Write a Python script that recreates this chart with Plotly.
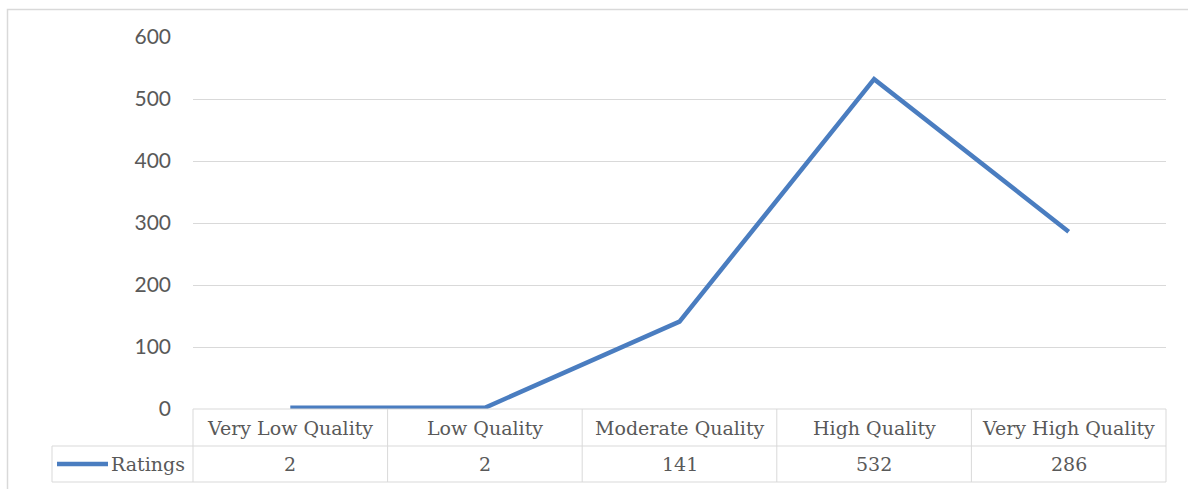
import plotly.graph_objects as go

categories = ["Very Low Quality", "Low Quality", "Moderate Quality", "High Quality", "Very High Quality"]
ratings = [2, 2, 141, 532, 286]
series_name = "Ratings"
y_ticks = [0, 100, 200, 300, 400, 500, 600]

W, H = 1188, 489
L, R, T, B = 193, 1166, 37, 409  # plot area pixels
PW, PH = R - L, B - T

def px(x):
    return (x - L) / PW

def py(y):
    return (B - y) / PH

GRID = "#d9d9d9"
TXT = "#595959"
BLUE = "#4a7dc0"
SERIF = "DejaVu Serif, serif"
SANS = "Lato, Open Sans, sans-serif"
TFS = 19

fig = go.Figure()
fig.add_trace(go.Scatter(
    x=list(range(len(categories))), y=ratings, mode="lines",
    line=dict(color=BLUE, width=4.5), name=series_name, showlegend=False,
    hoverinfo="y",
))

shapes = []
def line(x0, y0, x1, y1, color=GRID, w=1):
    shapes.append(dict(type="line", xref="paper", yref="paper",
                       x0=px(x0), y0=py(y0), x1=px(x1), y1=py(y1),
                       line=dict(color=color, width=w), layer="above"))

# outer chart border
shapes.append(dict(type="rect", xref="paper", yref="paper",
                   x0=px(7.5), y0=py(9.5), x1=px(1190), y1=py(495),
                   line=dict(color=GRID, width=1.5)))

# data table grid
n = len(categories)
row1, row2, row3 = 409, 446, 482
line(L, row1, R, row1)
line(52, row2, R, row2)
line(52, row3, R, row3)
line(52, row2, 52, row3)
for i in range(n + 1):
    x = L + PW * i / n
    line(x, row1, x, row3)
# legend key line
line(57, 464, 108, 464, color=BLUE, w=4.5)

annotations = []
for i, (c, v) in enumerate(zip(categories, ratings)):
    xc = (i + 0.5) / n
    annotations.append(dict(x=xc, y=py(428), xref="paper", yref="paper", text=c,
                            showarrow=False, font=dict(family=SERIF, size=TFS, color=TXT),
                            xanchor="center", yanchor="middle"))
    annotations.append(dict(x=xc, y=py(464), xref="paper", yref="paper", text=str(v),
                            showarrow=False, font=dict(family=SERIF, size=TFS, color=TXT),
                            xanchor="center", yanchor="middle"))
annotations.append(dict(x=px(109), y=py(464), xref="paper", yref="paper", text=series_name,
                        showarrow=False, font=dict(family=SERIF, size=TFS, color=TXT),
                        xanchor="left", yanchor="middle"))

fig.update_layout(
    width=W, height=H,
    margin=dict(l=L, r=W - R, t=T, b=H - B, pad=0),
    paper_bgcolor="white", plot_bgcolor="white",
    xaxis=dict(range=[-0.5, n - 0.5], showticklabels=False, showgrid=False,
               zeroline=False, showline=False, fixedrange=True),
    yaxis=dict(range=[0, 600], tickvals=y_ticks, showgrid=True, gridcolor=GRID, gridwidth=1,
               zeroline=False, showline=False, ticks="", ticklabelstandoff=21,
               tickfont=dict(family=SANS, size=21, color=TXT)),
    shapes=shapes, annotations=annotations,
)

fig.write_html("out.html", config={"displayModeBar": False},
               post_script="document.body.style.margin='0';document.body.style.overflow='hidden';")
